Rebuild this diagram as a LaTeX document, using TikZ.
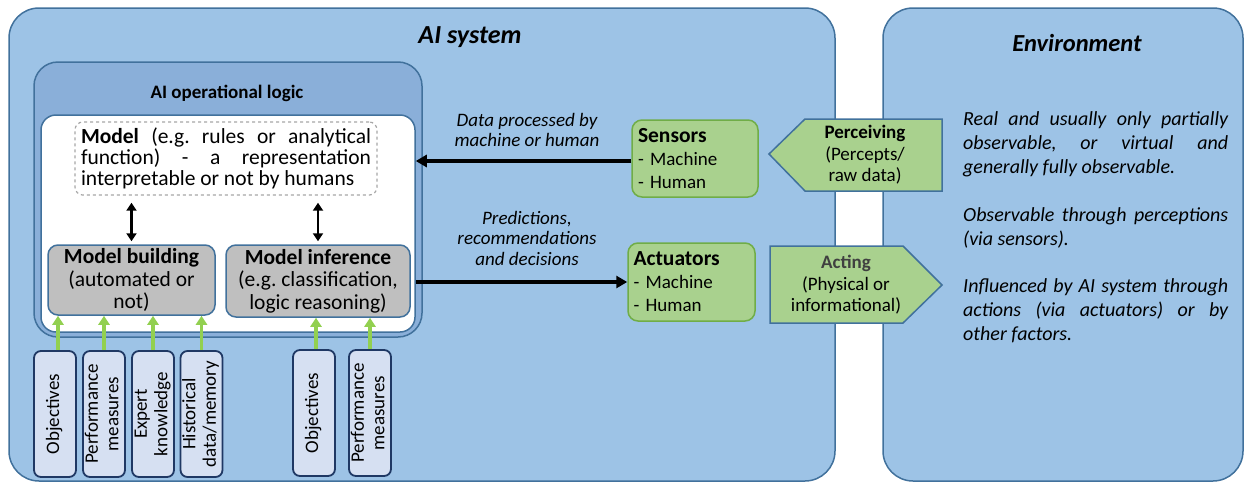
\documentclass[tikz,border=0pt]{standalone}
\usepackage{fontspec}
\setmainfont{Carlito}
\usepackage{graphicx}
\usetikzlibrary{arrows.meta}
\definecolor{sysblue}{HTML}{9DC3E6}
\definecolor{opblue}{HTML}{8AAFD9}
\definecolor{edge}{HTML}{41719C}
\definecolor{boxgray}{HTML}{BFBFBF}
\definecolor{grn}{HTML}{A9D18E}
\definecolor{grnedge}{HTML}{70AD47}
\definecolor{grnarrow}{HTML}{92D050}
\definecolor{infill}{HTML}{D6E0F2}
\definecolor{navy}{HTML}{1F3864}
\definecolor{dashgray}{HTML}{A6A6A6}
\definecolor{actgray}{HTML}{404040}
\newcommand\fs[2]{\fontsize{#1}{#2}\selectfont}
\newcommand\vlab[1]{\rotatebox{90}{\begin{tabular}{@{}c@{}}#1\end{tabular}}}
\hyphenpenalty=10000
\frenchspacing
\begin{document}
\begin{tikzpicture}[x=1pt,y=-1pt,
  container/.style={draw=edge, fill=sysblue, line width=1.5pt, rounded corners=30pt, inner sep=0pt},
  oplog/.style={draw=edge, fill=opblue, line width=1.5pt, rounded corners=24pt, inner sep=0pt},
  whitebox/.style={draw=edge, fill=white, line width=1.5pt, rounded corners=15pt, inner sep=0pt},
  dashbox/.style={draw=dashgray, dashed, line width=1.2pt, fill=white, rounded corners=8pt},
  graybox/.style={draw=edge, fill=boxgray, line width=1.5pt, rounded corners=10pt, align=center, font=\fs{21.5}{22.5}, inner sep=0pt},
  inbox/.style={draw=navy, fill=infill, line width=1.8pt, rounded corners=7pt, minimum width=42, minimum height=126, inner sep=0pt, font=\fs{19}{20.5}},
  grnbox/.style={draw=grnedge, fill=grn, line width=1.5pt, rounded corners=10pt, align=left, font=\fs{19}{23}},
  pent/.style={draw=edge, fill=grn, line width=1.5pt},
  penttext/.style={align=center, font=\fs{19}{21.5}},
  lab/.style={align=center, font=\fs{19}{20.5}\itshape},
  envtext/.style={anchor=west, text width=265, align=justify, inner sep=0pt, font=\fs{20}{24}\itshape},
  bigarrow/.style={line width=3.4pt, -{Triangle[length=11pt,width=12pt]}},
  dblarrow/.style={line width=2.2pt, {Triangle[length=8pt,width=10pt]}-{Triangle[length=8pt,width=10pt]}},
  garrow/.style={draw=grnarrow, line width=3.4pt, -{Triangle[length=9pt,width=11pt]}}
]
\useasboundingbox (0,0) rectangle (1245,482);

% containers
\node[container, minimum width=826, minimum height=473] (ais) at (422,244.5) {};
\node[container, minimum width=360, minimum height=473] (env) at (1063,244.5) {};
\node[font=\fs{26}{30}\bfseries\itshape] (aistitle) at (470,37) {AI system};
\node[font=\fs{24.5}{28}\bfseries\itshape] (envtitle) at (1077,43) {Environment};

\node[oplog, minimum width=388, minimum height=275] (op) at (228,199.5) {};
\node[font=\fs{19}{22}\bfseries] (optitle) at (227,93) {AI operational logic};
\node[whitebox, minimum width=374, minimum height=217] (wb) at (228,223.5) {};

\node[dashbox, minimum width=302, minimum height=67, text width=290, align=justify, inner sep=6pt, font=\fs{21.5}{21}] (model) at (226,158.5)
  {\textbf{Model} (e.g. rules or analytical\linebreak function) - a representation\linebreak interpretable or not by humans};

\node[graybox, minimum width=167, minimum height=70] (mb) at (131.5,280) {\textbf{Model building}\\(automated or\\not)};
\node[graybox, minimum width=184, minimum height=72] (mi) at (318,281) {\textbf{Model inference}\\(e.g. classification,\\logic reasoning)};

\draw[dblarrow, shorten <=7pt, shorten >=3pt] (model.south -| mb.north) -- (mb.north);
\draw[dblarrow, shorten <=7pt, shorten >=3pt] (model.south -| mi.north) -- (mi.north);

% inputs
\node[inbox] (in1) at (55,414) {\vlab{Objectives}};
\node[inbox] (in2) at (104,414) {\vlab{Performance\\measures}};
\node[inbox] (in3) at (153,414) {\vlab{Expert\\knowledge}};
\node[inbox] (in4) at (201.5,414) {\vlab{Historical\\data/memory}};
\node[inbox] (in5) at (314,413) {\vlab{Objectives}};
\node[inbox] (in6) at (370,413) {\vlab{Performance\\measures}};

\draw[garrow] ([xshift=3pt]in1.north) -- ([xshift=3pt]in1.north |- mb.south);
\draw[garrow] (in2.north) -- (in2.north |- mb.south);
\draw[garrow] (in3.north) -- (in3.north |- mb.south);
\draw[garrow] (in4.north) -- (in4.north |- mb.south);
\draw[garrow] ([xshift=2pt]in5.north) -- ([xshift=2pt]in5.north |- mi.south);
\draw[garrow] (in6.north) -- (in6.north |- mi.south);

% sensors / actuators
\node[grnbox, minimum width=126, minimum height=77, text width=114, inner xsep=6pt] (sens) at (695,158.5) {{\fs{21.5}{23}\bfseries Sensors}\\- Machine\\- Human};
\node[grnbox, minimum width=127, minimum height=78, text width=116, inner xsep=5.5pt] (act) at (691.5,282) {{\fs{21.5}{23}\bfseries Actuators}\\- Machine\\- Human};

\coordinate (ys) at (0,161);
\draw[bigarrow] (sens.west |- ys) -- (wb.east |- ys);
\draw[bigarrow] (wb.east |- act.west) -- (act.west);

\node[lab] (lab1) at (527,130) {Data processed by\\machine or human};
\node[lab] (lab2) at (527,238) {Predictions,\\recommendations\\and decisions};

% perceiving / acting
\draw[pent] (769,154) -- (805,119) -- (942,119) -- (942,191) -- (805,191) -- cycle;
\node[penttext] (perc) at (865,155) {\textbf{Perceiving}\\(Percepts/\\raw data)};
\draw[pent] (770,246) -- (903,246) -- (942,285) -- (903,323) -- (770,323) -- cycle;
\node[penttext] (acting) at (846,285) {\textcolor{actgray}{\textbf{Acting}}\\(Physical or\\informational)};

% environment text
\node[envtext] (e1) at (963,144) {Real and usually only partially\linebreak observable, or virtual and\linebreak generally fully observable.};
\node[envtext] (e2) at (963,228) {Observable through perceptions\linebreak (via sensors).};
\node[envtext] (e3) at (963,311) {Influenced by AI system through\linebreak actions (via actuators) or by\linebreak other factors.};
\end{tikzpicture}
\end{document}
